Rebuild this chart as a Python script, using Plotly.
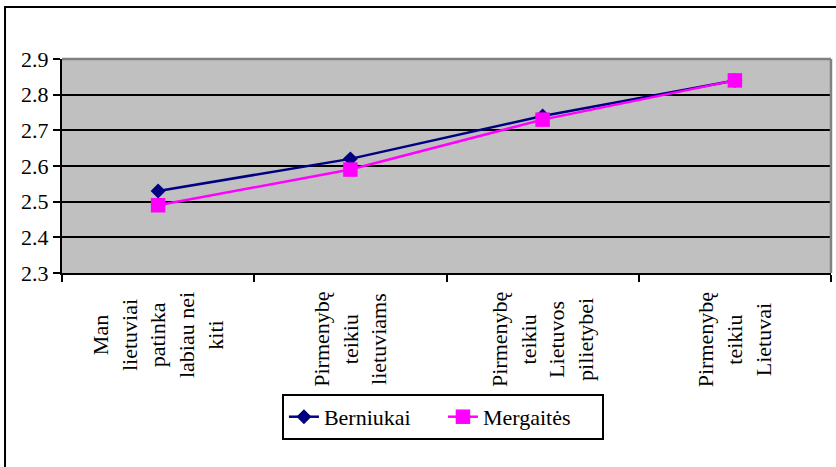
import plotly.graph_objects as go

# Category labels (wrapped as in the printed chart)
categories = [
    "Man lietuviai patinka labiau nei kiti",
    "Pirmenybę teikiu lietuviams",
    "Pirmenybę teikiu Lietuvos pilietybei",
    "Pirmenybę teikiu Lietuvai",
]
category_lines = [
    ["Man", "lietuviai", "patinka", "labiau nei", "kiti"],
    ["Pirmenybę", "teikiu", "lietuviams"],
    ["Pirmenybę", "teikiu", "Lietuvos", "pilietybei"],
    ["Pirmenybę", "teikiu", "Lietuvai"],
]

berniukai = [2.53, 2.62, 2.74, 2.84]
mergaites = [2.49, 2.59, 2.73, 2.84]

y_ticks = [2.3, 2.4, 2.5, 2.6, 2.7, 2.8, 2.9]

FONT = "Liberation Serif"
FS = 22

fig = go.Figure()
fig.add_trace(go.Scatter(
    x=categories, y=berniukai, name="Berniukai", mode="lines+markers",
    line=dict(color="#000080", width=2.5),
    marker=dict(symbol="diamond", size=11.5, color="#000080"),
))
fig.add_trace(go.Scatter(
    x=categories, y=mergaites, name="Mergaitės", mode="lines+markers",
    line=dict(color="#FF00FF", width=2.5),
    marker=dict(symbol="square", size=14.5, color="#FF00FF"),
))

# Rotated, centre-aligned category labels hanging below the axis
for cat, lines in zip(categories, category_lines):
    fig.add_annotation(
        x=cat, xref="x", y=-0.079, yref="paper",
        text="<br>".join(lines), textangle=-90,
        xanchor="center", yanchor="top", align="center",
        showarrow=False, font=dict(family=FONT, size=FS, color="black"),
    )

# Gray frame on the top and right of the plot area
fig.add_shape(type="line", xref="paper", yref="paper", x0=0, x1=1, y0=1, y1=1,
              line=dict(color="#808080", width=2.5), layer="above")
fig.add_shape(type="line", xref="paper", yref="paper", x0=1, x1=1, y0=0, y1=1,
              line=dict(color="#808080", width=2.5), layer="above")
# Outer chart border
fig.add_shape(type="rect", xref="paper", yref="paper",
              x0=-0.0741, x1=1.2, y0=-1.5, y1=1.243,
              line=dict(color="black", width=2), fillcolor="rgba(0,0,0,0)", layer="above")

fig.update_layout(
    width=836, height=467,
    margin=dict(l=62, r=5, t=59, b=194),
    paper_bgcolor="white", plot_bgcolor="#C0C0C0",
    font=dict(family=FONT, size=FS, color="black"),
    showlegend=True,
    legend=dict(
        orientation="h", x=0.286, y=-0.565, xanchor="left", yanchor="top",
        bordercolor="black", borderwidth=2, bgcolor="white",
        font=dict(family=FONT, size=FS, color="black"),
        entrywidth=114, entrywidthmode="pixels", tracegroupgap=0,
    ),
    xaxis=dict(
        type="category", range=[-0.5, 3.5], showticklabels=False,
        ticks="outside", tickson="boundaries", ticklen=7, tickwidth=2, tickcolor="black",
        showline=True, linecolor="black", linewidth=2, showgrid=False, zeroline=False,
    ),
    yaxis=dict(
        range=[2.3, 2.9], tickvals=y_ticks, ticktext=[f"{v:.1f}" for v in y_ticks],
        ticks="outside", ticklen=7, tickwidth=2, tickcolor="black",
        showline=True, linecolor="black", linewidth=2,
        showgrid=True, gridcolor="black", gridwidth=2, zeroline=False,
        tickfont=dict(family=FONT, size=FS, color="black"),
    ),
)

fig.write_html("out.html")
